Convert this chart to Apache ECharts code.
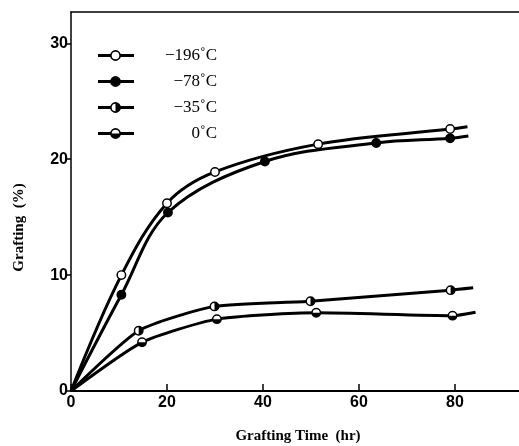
<!DOCTYPE html>
<html>
<head>
<meta charset="utf-8">
<script src="https://cdn.jsdelivr.net/npm/echarts@6/dist/echarts.min.js"></script>
<style>html,body{margin:0;padding:0;background:#fff}#c{width:519px;height:446px}</style>
</head>
<body>
<div id="c"></div>
<script>
// ---- data ----
const seriesNames = ['\u2212196\u02daC', '\u221278\u02daC', '\u221235\u02daC', '0\u02daC'];
const xTicks = [0, 20, 40, 60, 80];
const yTicks = [0, 10, 20, 30];
const m196 = [[0, 0], [10.5, 10.0], [20, 16.2], [30, 18.9], [51.5, 21.3], [79, 22.6]];
const m78  = [[0, 0], [10.5, 8.3], [20.2, 15.4], [40.4, 19.8], [63.6, 21.4], [79, 21.8]];
const m35  = [[0, 0], [14.1, 5.2], [29.9, 7.3], [49.9, 7.75], [79.1, 8.7]];
const m0   = [[0, 0], [14.8, 4.2], [30.4, 6.2], [51.1, 6.75], [79.5, 6.5]];
// where each drawn curve ends (beyond its last measured point)
const end196 = [82.6, 22.8];
const end78  = [82.8, 22.0];
const end35  = [83.8, 8.9];
const end0   = [84.3, 6.8];

// ---- marker images ----
function svgUri(s) { return 'image://data:image/svg+xml;charset=utf-8,' + encodeURIComponent(s); }
const R = 4.6, C = 6;
function markerSvg(kind, withLine) {
  const w = withLine ? 36 : 12, cx = withLine ? 17.5 : C;
  let s = "<svg xmlns='http://www.w3.org/2000/svg' width='" + w + "' height='12' viewBox='0 0 " + w + " 12'>";
  if (withLine) s += "<line x1='0' y1='6' x2='" + w + "' y2='6' stroke='black' stroke-width='3.2'/>";
  const fill = kind === 'filled' ? 'black' : 'white';
  s += "<circle cx='" + cx + "' cy='6' r='" + R + "' fill='" + fill + "' stroke='black' stroke-width='1.6'/>";
  if (kind === 'right') s += "<path d='M" + cx + " " + (6 - R) + " A" + R + " " + R + " 0 0 1 " + cx + " " + (6 + R) + " Z' fill='black'/>";
  if (kind === 'bottom') s += "<path d='M" + (cx - R) + " 6 A" + R + " " + R + " 0 0 0 " + (cx + R) + " 6 Z' fill='black'/>";
  s += "</svg>";
  return svgUri(s);
}
const kinds = ['open', 'filled', 'right', 'bottom'];
const datasets = [m196, m78, m35, m0];
const ends = [end196, end78, end35, end0];
const smooths = [0.35, 0.35, 0.2, 0.2];

const chart = echarts.init(document.getElementById('c'), null, { renderer: 'canvas' });
const axisFont = { fontFamily: 'Liberation Sans Narrow, Liberation Sans, Arial', fontWeight: 'bold', fontSize: 16, color: '#000' };
const titleFont = { fontFamily: 'Liberation Serif, DejaVu Serif, serif', fontWeight: 'bold', fontSize: 15, color: '#000' };

const series = datasets.map((d, i) => ({
  name: seriesNames[i],
  type: 'line',
  smooth: smooths[i],
  symbol: markerSvg(kinds[i], false),
  symbolSize: 11,
  showAllSymbol: true,
  lineStyle: { color: '#000', width: 3 },
  itemStyle: { color: '#000' },
  z: 3,
  data: d.map((p, j) => j === 0 ? { value: p, symbol: 'none' } : p)
        .concat([{ value: ends[i], symbol: 'none' }]),
  animation: false
}));

chart.setOption({
  animation: false,
  backgroundColor: '#fff',
  grid: { left: 71, top: 12, right: -6, bottom: 55, show: false, containLabel: false, outerBoundsMode: 'none' },
  legend: {
    orient: 'vertical',
    left: 93,
    top: 42,
    itemWidth: 36,
    itemHeight: 12,
    itemGap: 9,
    data: seriesNames.map((n, i) => ({ name: n, icon: markerSvg(kinds[i], true) })),
    formatter: n => '{a|' + n + '}',
    textStyle: {
      fontFamily: 'Liberation Serif, DejaVu Serif, serif',
      fontSize: 17,
      color: '#000',
      rich: { a: { width: 78, align: 'right', fontFamily: 'Liberation Serif, DejaVu Serif, serif', fontSize: 17, color: '#000' } }
    },
    selectedMode: false
  },
  xAxis: [{
    type: 'value',
    min: 0, max: 94.6, interval: 20,
    name: 'Grafting Time  (hr)',
    nameLocation: 'middle',
    nameGap: 38,
    nameTextStyle: titleFont,
    axisLine: { show: true, onZero: false, lineStyle: { color: '#000', width: 2 } },
    axisTick: { show: true, inside: true, length: 7, customValues: xTicks, lineStyle: { color: '#000', width: 1.5 } },
    axisLabel: Object.assign({ margin: 4, customValues: xTicks }, axisFont),
    splitLine: { show: false }
  }, {
    type: 'value',
    position: 'top',
    min: 0, max: 94.6, interval: 20,
    axisLine: { show: true, onZero: false, lineStyle: { color: '#000', width: 1.5 } },
    axisTick: { show: false },
    axisLabel: { show: false },
    splitLine: { show: false }
  }],
  yAxis: {
    type: 'value',
    min: 0, max: 32.7, interval: 10,
    name: 'Grafting  (%)',
    nameLocation: 'middle',
    nameRotate: 90,
    nameGap: 44,
    nameTextStyle: Object.assign({}, titleFont, { padding: [0, 52, 0, 0] }),
    axisLine: { show: true, onZero: false, lineStyle: { color: '#000', width: 1.5 } },
    axisTick: { show: true, inside: false, length: 5, customValues: yTicks, lineStyle: { color: '#000', width: 1.5 } },
    axisLabel: Object.assign({ margin: 3, customValues: yTicks }, axisFont),
    splitLine: { show: false }
  },
  series: series
});
</script>
</body>
</html>
